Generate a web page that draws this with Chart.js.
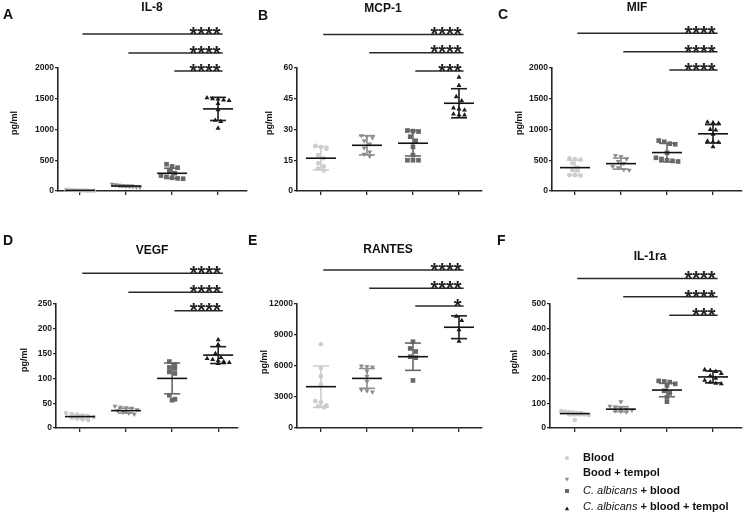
<!DOCTYPE html>
<html>
<head>
<meta charset="utf-8">
<script src="https://cdn.jsdelivr.net/npm/chart.js@4/dist/chart.umd.min.js"></script>
<style>
  html, body { margin: 0; padding: 0; background: #fff; }
  #wrap { position: relative; width: 748px; height: 516px; background: #fff; }
  #wrap canvas { position: absolute; left: 0; top: 0; }
</style>
</head>
<body>
<div id="wrap"></div>
<script>
// groups, same order in every panel
const groupNames = ['Blood', 'Bood + tempol', 'C. albicans + blood', 'C. albicans + blood + tempol'];

// A - IL-8
const il8Values = [
  [22, 18, 15, 12, 10, 8, 6, 4, 3],
  [110, 102, 95, 88, 80, 75, 70, 65, 60],
  [435, 400, 380, 330, 290, 250, 230, 215, 205, 200],
  [1515, 1500, 1495, 1480, 1470, 1420, 1320, 1150, 1130, 1020]
];
const il8Mean = [10, 81, 288, 1335];
const il8Sd = [6, 14, 82, 188];
const il8Ticks = [0, 500, 1000, 1500, 2000];
const il8Stars = ['****', '****', '****'];
const il8StarLevels = [2553, 2244, 1951];

// B - MCP-1
const mcpValues = [
  [22, 21.5, 20.5, 17.5, 16, 13.5, 12, 11, 10],
  [27, 26.5, 26, 24.5, 23, 21, 19, 18, 17],
  [29.5, 29.2, 29, 26.5, 24.5, 21.5, 17.5, 15, 15, 15],
  [55.5, 51.5, 46, 44, 40.5, 40, 39.5, 37.5, 37, 37]
];
const mcpMean = [16, 22.3, 23.3, 42.8];
const mcpSd = [5.7, 4.7, 6.2, 7.1];
const mcpTicks = [0, 15, 30, 45, 60];
const mcpStars = ['****', '****', '***'];
const mcpStarLevels = [76.4, 67.5, 58.5];

// C - MIF
const mifValues = [
  [530, 520, 510, 450, 380, 340, 330, 260, 255, 250],
  [580, 560, 520, 480, 450, 400, 380, 350, 340],
  [820, 800, 770, 760, 620, 540, 520, 500, 490, 480],
  [1120, 1110, 1100, 1000, 990, 920, 810, 800, 790, 720]
];
const mifMean = [380, 445, 625, 930];
const mifSd = [122, 90, 150, 150];
const mifTicks = [0, 500, 1000, 1500, 2000];
const mifStars = ['****', '****', '****'];
const mifStarLevels = [2564, 2265, 1967];

// D - VEGF
const vegfValues = [
  [30, 28, 27, 25, 24, 22, 21, 19, 17, 16],
  [44, 42, 41, 40, 37, 35, 32, 30, 28],
  [134, 128, 122, 120, 113, 110, 66, 58, 56],
  [178, 168, 150, 142, 140, 138, 136, 134, 132, 130]
];
const vegfMean = [23, 35, 100, 147];
const vegfSd = [4, 5, 31, 17];
const vegfTicks = [0, 50, 100, 150, 200, 250];
const vegfStars = ['****', '****', '****'];
const vegfStarLevels = [312, 273.6, 236.5];

// E - RANTES
const rantesValues = [
  [8100, 5800, 5000, 4200, 2600, 2500, 2200, 2100, 2000],
  [6000, 5950, 5900, 5500, 5000, 4500, 3700, 3600, 3500],
  [8350, 7700, 7400, 6900, 6800, 4600],
  [10800, 10400, 9500, 8400]
];
const rantesMean = [4000, 4800, 6900, 9750];
const rantesSd = [2000, 960, 1320, 1100];
const rantesTicks = [0, 3000, 6000, 9000, 12000];
const rantesStars = ['****', '****', '*'];
const rantesStarLevels = [15294, 13523, 11810];

// F - IL-1ra
const il1raValues = [
  [68, 66, 64, 62, 60, 58, 55, 52, 32],
  [106, 88, 85, 80, 76, 72, 70, 67, 65],
  [190, 188, 185, 178, 172, 150, 140, 124, 106],
  [235, 232, 228, 220, 210, 200, 192, 185, 180, 178]
];
const il1raMean = [58, 76, 153, 206];
const il1raSd = [8, 10, 27, 24];
const il1raTicks = [0, 100, 200, 300, 400, 500];
const il1raStars = ['****', '****', '***'];
const il1raStarLevels = [603, 529, 455];

// look
const FONT = '"Liberation Sans", Arial, sans-serif';
const AXIS = '#262626';
const colors = ['#cdcdcd', '#8d8d8d', '#686868', '#1c1c1c'];
const styles = ['circle', 'triangle', 'rect', 'triangle'];
const rotations = [0, 180, 0, 0];
const radii = [2.3, 2.9, 3.3, 2.9];

const panels = [
  { letter: 'A', title: 'IL-8', values: il8Values, mean: il8Mean, sd: il8Sd, ticks: il8Ticks, stars: il8Stars, levels: il8StarLevels,
    box: { left: 58, right: 247, top: 68, bottom: 191, xMin: 0.52, xMax: 4.63, titleX: 152, titleY: 8, letterX: 3, letterY: 15, labelX: 15, labelY: 123 } },
  { letter: 'B', title: 'MCP-1', values: mcpValues, mean: mcpMean, sd: mcpSd, ticks: mcpTicks, stars: mcpStars, levels: mcpStarLevels,
    box: { left: 297, right: 482, top: 68, bottom: 191, xMin: 0.48, xMax: 4.5, titleX: 383, titleY: 9, letterX: 258, letterY: 16, labelX: 270, labelY: 123 } },
  { letter: 'C', title: 'MIF', values: mifValues, mean: mifMean, sd: mifSd, ticks: mifTicks, stars: mifStars, levels: mifStarLevels,
    box: { left: 552, right: 742, top: 68, bottom: 191, xMin: 0.5, xMax: 4.63, titleX: 637, titleY: 8, letterX: 498, letterY: 15, labelX: 520, labelY: 123 } },
  { letter: 'D', title: 'VEGF', values: vegfValues, mean: vegfMean, sd: vegfSd, ticks: vegfTicks, stars: vegfStars, levels: vegfStarLevels,
    box: { left: 56, right: 238, top: 304, bottom: 428, xMin: 0.48, xMax: 4.43, titleX: 152, titleY: 251, letterX: 3, letterY: 241, labelX: 25, labelY: 360 } },
  { letter: 'E', title: 'RANTES', values: rantesValues, mean: rantesMean, sd: rantesSd, ticks: rantesTicks, stars: rantesStars, levels: rantesStarLevels,
    box: { left: 297, right: 482, top: 304, bottom: 428, xMin: 0.48, xMax: 4.5, titleX: 388, titleY: 250, letterX: 248, letterY: 241, labelX: 265, labelY: 362 } },
  { letter: 'F', title: 'IL-1ra', values: il1raValues, mean: il1raMean, sd: il1raSd, ticks: il1raTicks, stars: il1raStars, levels: il1raStarLevels,
    box: { left: 550, right: 742, top: 304, bottom: 428, xMin: 0.46, xMax: 4.63, titleX: 650, titleY: 257, letterX: 497, letterY: 241, labelX: 515, labelY: 362 } }
];

// spread points that sit on top of each other sideways, like a prism scatter
function spread(vals, group, yMax) {
  const thr = yMax * 0.035;
  const order = vals.slice().sort((a, b) => b - a);
  const pts = [];
  let cluster = [];
  const flush = () => {
    const n = cluster.length;
    const step = n > 1 ? Math.min(0.12, 0.6 / (n - 1)) : 0;
    cluster.forEach((v, k) => pts.push({ x: group + (k - (n - 1) / 2) * step, y: v }));
    cluster = [];
  };
  order.forEach(v => {
    if (cluster.length && cluster[0] - v > thr) flush();
    cluster.push(v);
  });
  flush();
  return pts;
}

function line(ctx, x1, y1, x2, y2) {
  ctx.beginPath();
  ctx.moveTo(x1, y1);
  ctx.lineTo(x2, y2);
  ctx.stroke();
}

function makePanel(p, withLegend) {
  const b = p.box;
  const canvas = document.createElement('canvas');
  canvas.width = 748;
  canvas.height = 516;
  document.getElementById('wrap').appendChild(canvas);
  const yMax = p.ticks[p.ticks.length - 1];

  const extras = {
    id: 'extras' + p.letter,
    afterDatasetsDraw(chart) {
      const ctx = chart.ctx, xs = chart.scales.x, ys = chart.scales.y;
      ctx.save();
      ctx.lineCap = 'butt';
      // mean +/- SD
      p.mean.forEach((m, g) => {
        const x = xs.getPixelForValue(g + 1);
        const yT = ys.getPixelForValue(m + p.sd[g]);
        const yB = ys.getPixelForValue(m - p.sd[g]);
        const yM = ys.getPixelForValue(m);
        ctx.strokeStyle = colors[g];
        ctx.lineWidth = 1.6;
        line(ctx, x, yT, x, yB);
        line(ctx, x - 8, yT, x + 8, yT);
        line(ctx, x - 8, yB, x + 8, yB);
        ctx.strokeStyle = '#111';
        line(ctx, x - 15, yM, x + 15, yM);
      });
      // significance bars
      ctx.font = 'bold 20px ' + FONT;
      ctx.textAlign = 'right';
      ctx.textBaseline = 'alphabetic';
      p.stars.forEach((s, i) => {
        const y = ys.getPixelForValue(p.levels[i]);
        const x1 = xs.getPixelForValue(i + 1.05);
        const x2 = xs.getPixelForValue(4.1);
        ctx.strokeStyle = '#2a2a2a';
        ctx.lineWidth = 1.5;
        line(ctx, x1, y, x2, y);
        ctx.fillStyle = '#222';
        ctx.fillText(s, x2 - 2, y + 6.8);
      });
      // title, panel letter, y label
      ctx.fillStyle = '#111';
      ctx.textBaseline = 'middle';
      ctx.textAlign = 'center';
      ctx.font = 'bold 12px ' + FONT;
      ctx.fillText(p.title, b.titleX, b.titleY);
      ctx.textAlign = 'left';
      ctx.font = 'bold 14px ' + FONT;
      ctx.fillText(p.letter, b.letterX, b.letterY);
      ctx.save();
      ctx.translate(b.labelX, b.labelY);
      ctx.rotate(-Math.PI / 2);
      ctx.textAlign = 'center';
      ctx.font = 'bold 9px ' + FONT;
      ctx.fillText('pg/ml', 0, 0);
      ctx.restore();
      if (withLegend) drawLegend(ctx);
      ctx.restore();
    }
  };

  new Chart(canvas, {
    type: 'scatter',
    data: {
      datasets: p.values.map((vals, g) => ({
        label: groupNames[g],
        data: spread(vals, g + 1, yMax),
        pointStyle: styles[g],
        rotation: rotations[g],
        pointRadius: radii[g],
        pointHoverRadius: radii[g],
        backgroundColor: colors[g],
        borderColor: colors[g],
        borderWidth: 0,
        clip: false
      }))
    },
    options: {
      responsive: false,
      animation: false,
      events: [],
      layout: { padding: { left: b.left - 40, top: b.top, right: 748 - b.right, bottom: 516 - b.bottom - 8 } },
      plugins: { legend: { display: false }, tooltip: { enabled: false } },
      scales: {
        x: {
          type: 'linear',
          min: b.xMin,
          max: b.xMax,
          afterBuildTicks: s => { s.ticks = groupNames.map((_, i) => ({ value: i + 1 })); },
          afterFit: s => { s.height = 8; },
          ticks: { callback: () => '' },
          grid: { drawOnChartArea: false, tickLength: 4, color: AXIS, lineWidth: 1.3 },
          border: { color: AXIS, width: 1.6 }
        },
        y: {
          min: 0,
          max: yMax,
          afterBuildTicks: s => { s.ticks = p.ticks.map(v => ({ value: v })); },
          afterFit: s => { s.width = 40; },
          ticks: { color: '#1a1a1a', padding: 1, callback: v => String(v), font: { family: FONT, size: 8.6, weight: 'bold' } },
          grid: { drawOnChartArea: false, tickLength: 3, color: AXIS, lineWidth: 1.3 },
          border: { color: AXIS, width: 1.6 }
        }
      }
    },
    plugins: [extras]
  });
}

function drawLegend(ctx) {
  const mx = 567, tx = 583;
  const rows = [
    { y: 458, my: 458, parts: [['Blood', false]] },
    { y: 473, my: 479, parts: [['Bood + tempol', false]] },
    { y: 491, my: 491, parts: [['C. albicans', true], [' + blood', false]] },
    { y: 507, my: 509, parts: [['C. albicans', true], [' + blood + tempol', false]] }
  ];
  rows.forEach((r, g) => {
    ctx.fillStyle = colors[g];
    ctx.strokeStyle = colors[g];
    Chart.helpers.drawPoint(ctx, {
      pointStyle: styles[g], rotation: rotations[g], radius: radii[g] * 0.85, borderWidth: 0
    }, mx, r.my);
    ctx.textAlign = 'left';
    ctx.textBaseline = 'middle';
    let x = tx;
    r.parts.forEach(([t, it]) => {
      ctx.font = (it ? 'italic 11px ' : 'bold 11px ') + FONT;
      ctx.fillStyle = '#111';
      ctx.fillText(t, x, r.y);
      x += ctx.measureText(t).width;
    });
  });
}

panels.forEach((p, i) => makePanel(p, i === panels.length - 1));
</script>
</body>
</html>
